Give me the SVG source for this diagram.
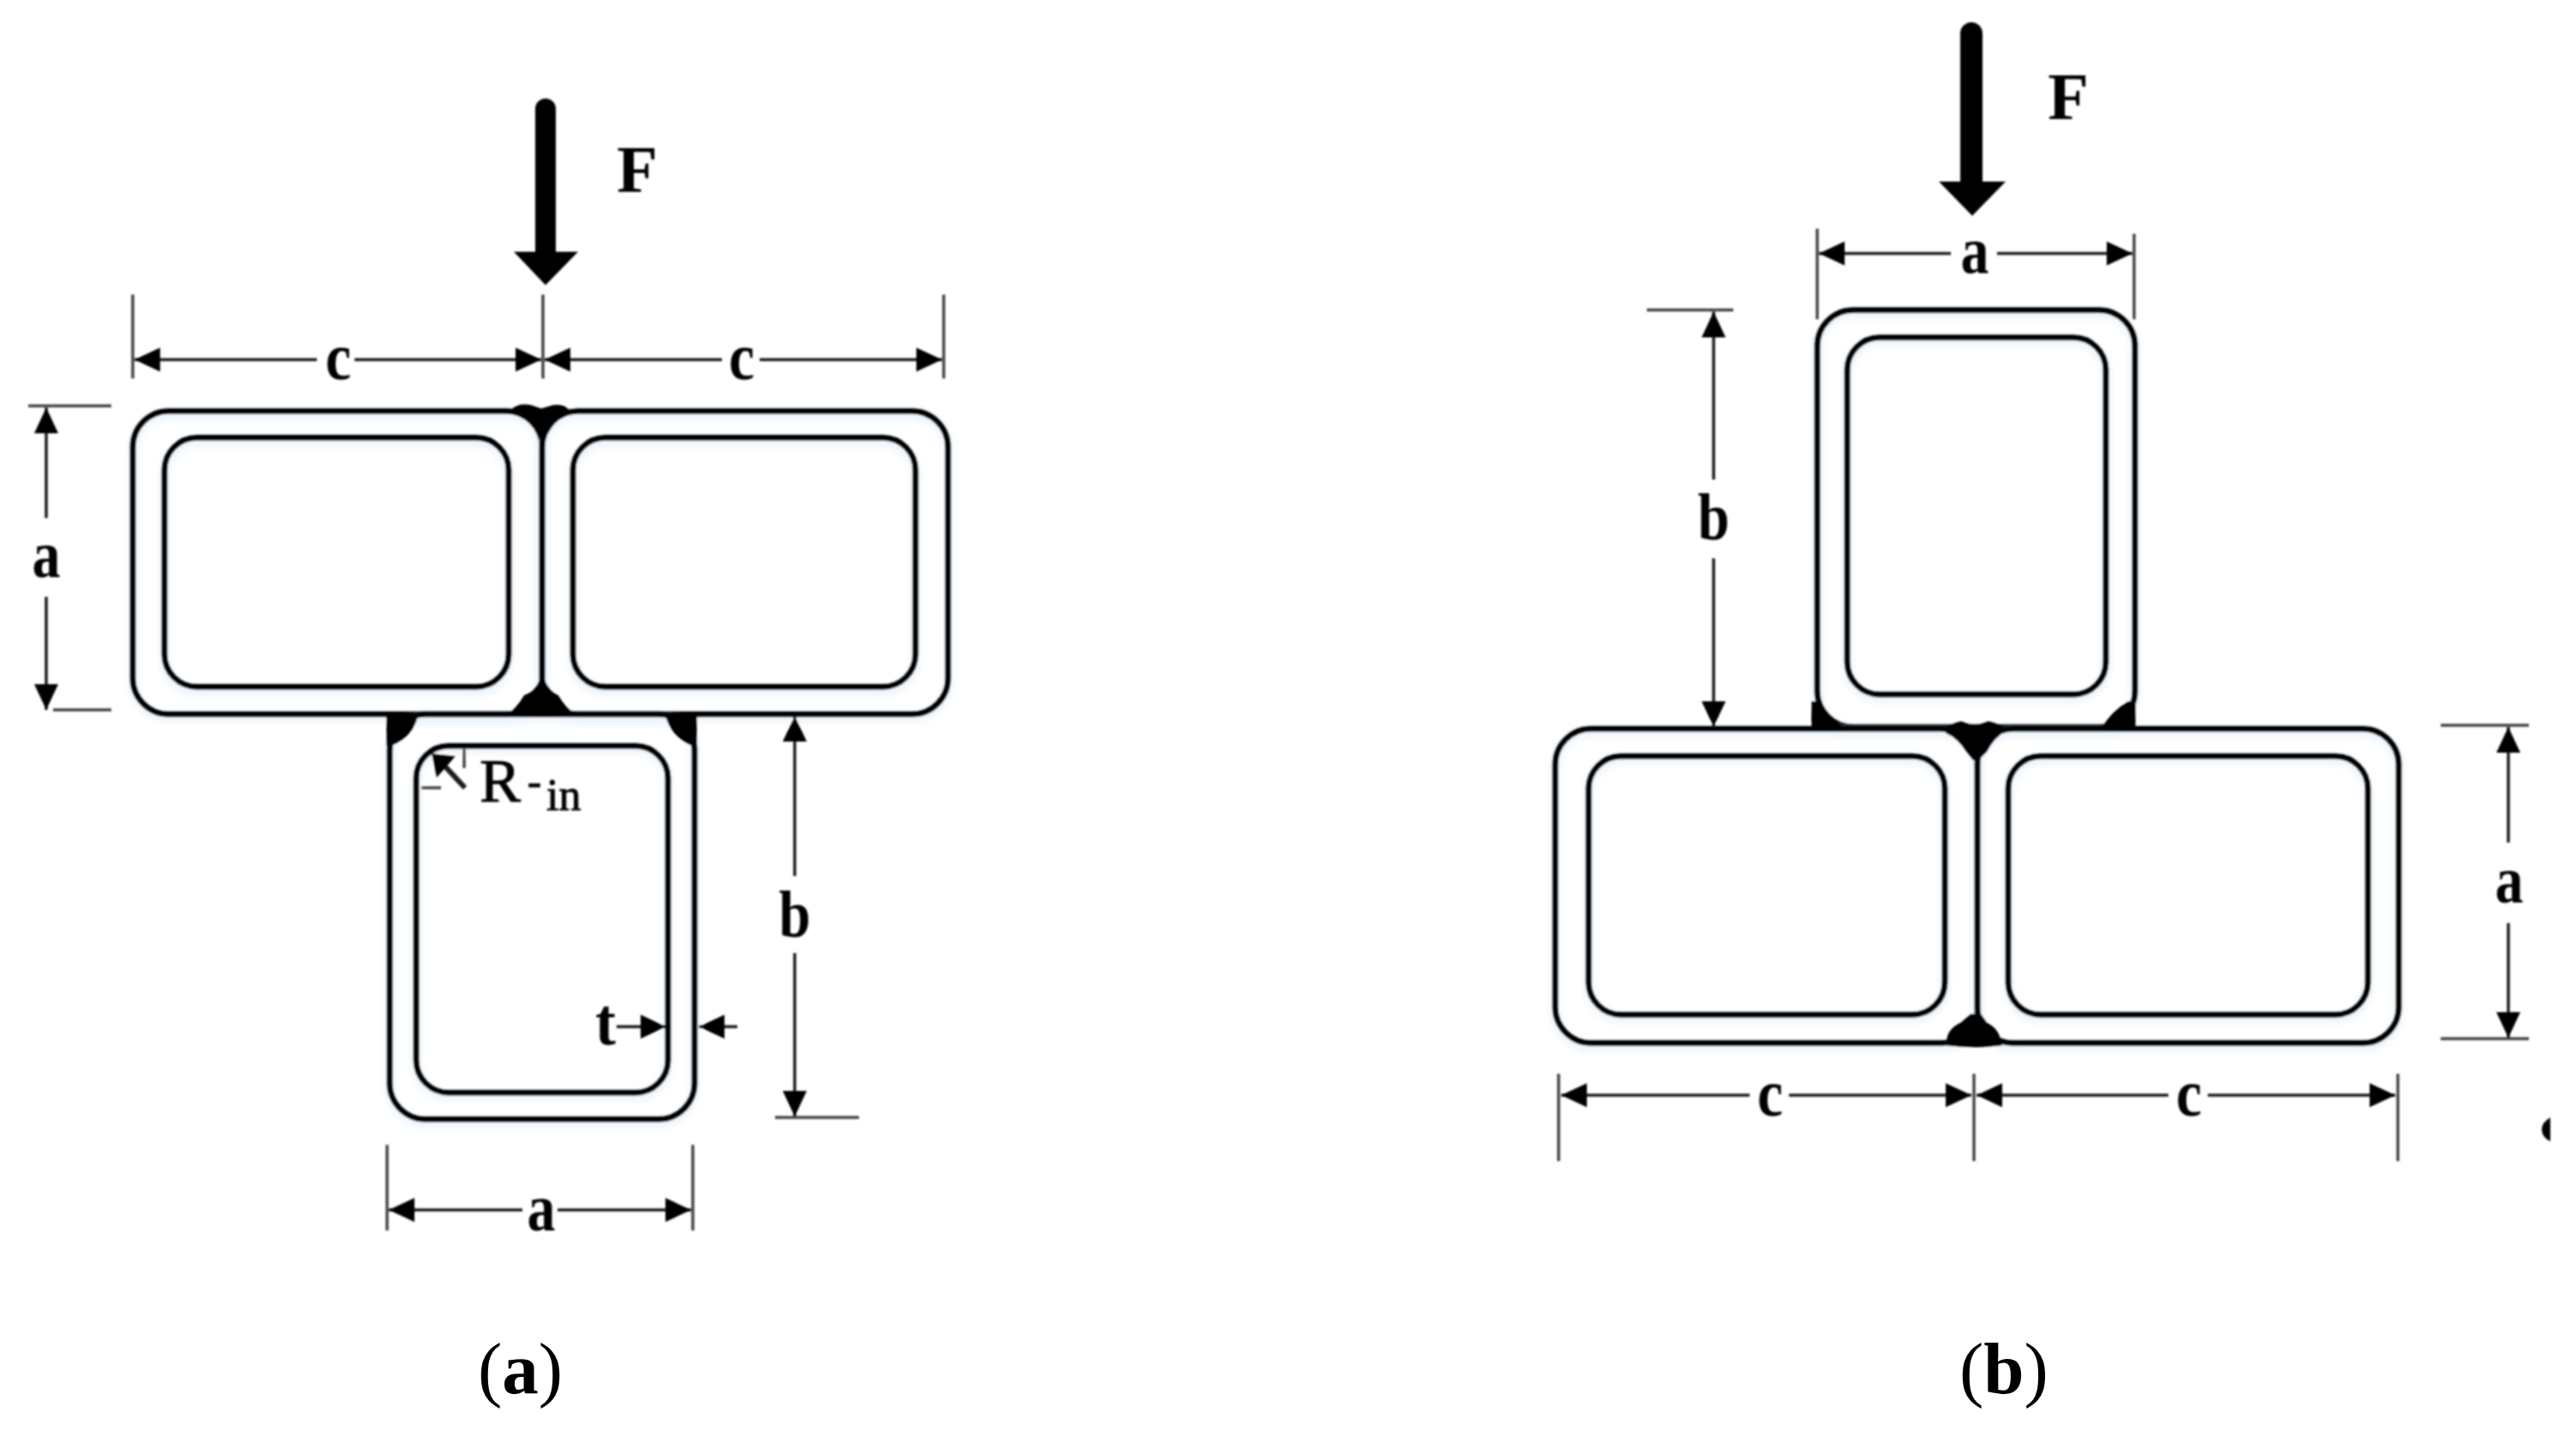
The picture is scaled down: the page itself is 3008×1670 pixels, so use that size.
<svg xmlns="http://www.w3.org/2000/svg" width="3008" height="1670" viewBox="0 0 3008 1670">
<style>
text{font-family:"Liberation Serif","Times New Roman",serif;fill:#000}
.lb{font-size:78px;font-weight:bold;text-anchor:middle}
.cap{font-size:85px}
.cap .bd{font-weight:bold}
.o{fill:none;stroke:#000;stroke-width:7}
.i{fill:none;stroke:#000;stroke-width:7}
.glow{fill:none;stroke:#eaf3fb;stroke-width:10;filter:url(#gl)}
.dim{fill:none;stroke:#1a1a1a;stroke-width:3.5}
.tick{fill:none;stroke:#444;stroke-width:3.5}
.ar{marker-start:url(#ah)}
.ae{marker-end:url(#ah)}
.weld{fill:#000}
.force{fill:#000}
</style>
<defs>
<filter id="gl" x="-10%" y="-10%" width="120%" height="120%"><feGaussianBlur stdDeviation="4"/></filter>
<filter id="sf" x="0" y="0" width="3008" height="1670" filterUnits="userSpaceOnUse"><feGaussianBlur stdDeviation="0.9"/></filter>
<marker id="ah" viewBox="0 0 30 28" refX="30" refY="14" markerWidth="30" markerHeight="28" markerUnits="userSpaceOnUse" orient="auto-start-reverse"><path d="M0 0L30 14L0 28Z" fill="#000"/></marker>
</defs>
<rect width="3008" height="1670" fill="#fff"/>
<g filter="url(#sf)">
<g id="panel-a-tubes">
<g id="a-tube-left"><rect class="glow" x="155" y="484" width="478" height="354" rx="42"/><rect class="glow" x="192" y="516" width="402" height="291" rx="38"/><rect class="o" x="155" y="480" width="478" height="354" rx="42"/><rect class="i" x="192" y="511" width="402" height="291" rx="38"/></g>
<g id="a-tube-right"><rect class="glow" x="633" y="484" width="474" height="354" rx="42"/><rect class="glow" x="669" y="516" width="400" height="291" rx="38"/><rect class="o" x="633" y="480" width="474" height="354" rx="42"/><rect class="i" x="669" y="511" width="400" height="291" rx="38"/></g>
<g id="a-tube-bottom"><rect class="glow" x="455" y="838" width="356" height="473" rx="42"/><rect class="glow" x="486" y="875" width="294" height="405" rx="38"/><rect class="o" x="455" y="834" width="356" height="473" rx="42"/><rect class="i" x="486" y="871" width="294" height="405" rx="38"/></g>
<g id="a-welds">
<path class="weld" d="M596 478Q606 470 620 473L632 477L646 473Q660 471 666 480Q652 488 645 498L635 514H631L622 498Q612 486 596 482Z"/>
<path class="weld" d="M590 836Q604 826 612 812Q624 808 630 794H636Q642 808 652 812Q660 826 674 836Z"/>
<path class="weld" d="M451 832H489Q484 860 457 871H451Z"/>
<path class="weld" d="M814 832H776Q782 860 808 871H814Z"/>
</g>
</g>
<g id="panel-b-tubes">
<g id="b-tube-top"><rect class="glow" x="2122" y="366" width="371" height="486" rx="42"/><rect class="glow" x="2157" y="398" width="302" height="417" rx="38"/><rect class="o" x="2122" y="362" width="371" height="487" rx="42"/><rect class="i" x="2157" y="394" width="302" height="417" rx="38"/></g>
<g id="b-tube-left"><rect class="glow" x="1816" y="855" width="493" height="368" rx="42"/><rect class="glow" x="1855" y="887" width="416" height="302" rx="38"/><rect class="o" x="1816" y="851" width="493" height="367" rx="42"/><rect class="i" x="1855" y="883" width="416" height="302" rx="38"/></g>
<g id="b-tube-right"><rect class="glow" x="2309" y="855" width="492" height="368" rx="42"/><rect class="glow" x="2345" y="887" width="420" height="302" rx="38"/><rect class="o" x="2309" y="851" width="492" height="367" rx="42"/><rect class="i" x="2345" y="883" width="420" height="302" rx="38"/></g>
<g id="b-welds">
<path class="weld" d="M2270 850Q2280 844 2290 842L2302 846L2306 852L2310 846L2322 842Q2334 844 2344 852Q2328 862 2320 878L2310 888H2304L2296 878Q2286 862 2272 856Z"/>
<path class="weld" d="M2272 1221Q2272 1202 2290 1194L2301 1184H2313L2320 1194Q2336 1202 2338 1221Q2304 1225 2272 1221Z"/>
<path class="weld" d="M2115 851V819H2126Q2132 838 2158 852Z"/>
<path class="weld" d="M2494 851V819H2485Q2466 830 2452 852Z"/>
</g>
</g>
<g id="connectors">
<g id="a-force"><path class="force" d="M625 127a12 12 0 0 1 24 0V294H675L637 333L600 294H625Z"/></g>
<g id="b-force"><path class="force" d="M2289 39a13 13 0 0 1 26 0V212H2342L2303 252L2264 212H2289Z"/></g>
<g id="a-dims">
<path class="tick" d="M155 344V442M634 344V442M1102 344V442M33 474H130M62 829H130M905 1305H1003M452 1337V1437M809 1337V1437"/>
<path class="dim ar" d="M157 420H370"/><path class="dim ar" d="M632 420H414"/>
<path class="dim ar" d="M636 420H843"/><path class="dim ar" d="M1100 420H887"/>
<path class="dim ar" d="M54 476V605"/><path class="dim ar" d="M54 829V697"/>
<path class="dim ar" d="M928 836V1023"/><path class="dim ar" d="M928 1304V1113"/>
<path class="dim ar" d="M454 1413H610"/><path class="dim ar" d="M807 1413H651"/>
<path class="dim ae" d="M720 1199H778"/><path class="dim ae" d="M861 1199H816"/>
<path class="tick" d="M492 920H515M542 875V897"/>
<path class="dim" style="stroke-width:6" d="M515 890L543 920"/><path class="weld" d="M504 880L532 883L510 908Z"/>
</g>
<g id="b-dims">
<path class="tick" d="M2122 267V373M2492 273V373M1923 362H2024M2850 847H2953M2850 1213H2953M1820 1254V1356M2305 1254V1356M2800 1254V1356"/>
<path class="dim ar" d="M2124 296H2278"/><path class="dim ar" d="M2490 296H2332"/>
<path class="dim ar" d="M2001 364V560"/><path class="dim ar" d="M2001 849V652"/>
<path class="dim ar" d="M2929 849V984"/><path class="dim ar" d="M2929 1212V1078"/>
<path class="dim ar" d="M1823 1279H2043"/><path class="dim ar" d="M2302 1279H2089"/>
<path class="dim ar" d="M2308 1279H2532"/><path class="dim ar" d="M2797 1279H2578"/>
</g>
</g>
<g id="labels">
<text class="lb" x="744" y="224">F</text>
<text class="lb" x="395" y="443" textLength="30" lengthAdjust="spacingAndGlyphs">c</text>
<text class="lb" x="866" y="443" textLength="30" lengthAdjust="spacingAndGlyphs">c</text>
<text class="lb" x="54" y="674" textLength="33" lengthAdjust="spacingAndGlyphs">a</text>
<text class="lb" x="928" y="1094" textLength="37" lengthAdjust="spacingAndGlyphs">b</text>
<text class="lb" x="707" y="1220" textLength="24" lengthAdjust="spacingAndGlyphs">t</text>
<text class="lb" x="632" y="1437" textLength="33" lengthAdjust="spacingAndGlyphs">a</text>
<text x="560" y="936" font-size="72px" stroke="#000" stroke-width="1">R<tspan x="616" y="929" font-size="48px">-</tspan><tspan x="638" y="946" font-size="52px">in</tspan></text>
<text class="lb" x="2415" y="139">F</text>
<text class="lb" x="2306" y="319" textLength="33" lengthAdjust="spacingAndGlyphs">a</text>
<text class="lb" x="2001" y="630" textLength="37" lengthAdjust="spacingAndGlyphs">b</text>
<text class="lb" x="2930" y="1054" textLength="33" lengthAdjust="spacingAndGlyphs">a</text>
<text class="lb" x="2067" y="1303" textLength="30" lengthAdjust="spacingAndGlyphs">c</text>
<text class="lb" x="2556" y="1303" textLength="30" lengthAdjust="spacingAndGlyphs">c</text>
</g>
<path id="stray-mark" d="M2978 1305Q2968 1311 2968 1319Q2968 1328 2978 1333Z"/>
</g>
<text class="cap" x="558" y="1627">(<tspan class="bd">a</tspan>)</text>
<text class="cap" x="2288" y="1627">(<tspan class="bd">b</tspan>)</text>
</svg>
